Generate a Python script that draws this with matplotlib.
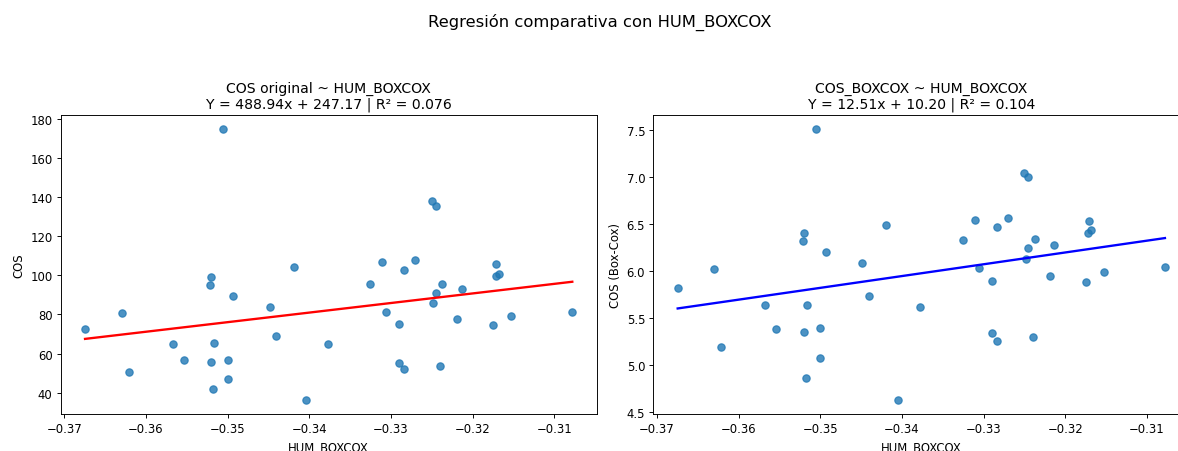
import numpy as np
import matplotlib
matplotlib.use("Agg")
import matplotlib.pyplot as plt

# ---------------- Data ----------------
hum_boxcox = [
    -0.36746, -0.36297, -0.36211, -0.35672, -0.35537, -0.35202, -0.35211, -0.35199,
    -0.35178, -0.35162, -0.35055, -0.34998, -0.34998, -0.34929, -0.34483, -0.34402,
    -0.34189, -0.34042, -0.33772, -0.33254, -0.33107, -0.33054, -0.32895, -0.32895,
    -0.32841, -0.32841, -0.32706, -0.32502, -0.32453, -0.32482, -0.32453, -0.32400,
    -0.32368, -0.32191, -0.32135, -0.31746, -0.31713, -0.31718, -0.31681, -0.31526,
    -0.30778,
]
cos_original = [
    72.7, 80.9, 50.6, 65.0, 56.7, 98.9, 94.8, 55.8,
    41.9, 65.5, 174.9, 56.7, 47.0, 89.2, 83.6, 69.0,
    104.2, 36.1, 64.7, 95.3, 106.9, 81.2, 75.3, 55.0,
    102.9, 52.3, 107.6, 138.0, 135.4, 85.6, 90.9, 53.6,
    95.7, 77.8, 92.8, 74.7, 105.9, 99.6, 100.7, 79.2,
    81.2,
]
cos_boxcox = [
    5.824, 6.022, 5.195, 5.644, 5.386, 6.400, 6.322, 5.357,
    4.866, 5.644, 7.511, 5.396, 5.074, 6.206, 6.089, 5.732,
    6.492, 4.628, 5.622, 6.326, 6.545, 6.036, 5.898, 5.339,
    6.471, 5.258, 6.563, 7.036, 6.998, 6.124, 6.245, 5.297,
    6.336, 5.951, 6.280, 5.888, 6.527, 6.404, 6.436, 5.990,
    6.047,
]

# fitted coefficients (slope, intercept, r2)
fit_original = (488.94, 247.17, 0.076)
fit_boxcox = (12.51, 10.20, 0.104)

# ---------------- Style ----------------
k = 0.84  # everything drawn a bit smaller than the defaults
plt.rcParams.update({
    "font.size": 10 * k,
    "axes.linewidth": 0.8 * k,
    "xtick.major.size": 3.5 * k,
    "ytick.major.size": 3.5 * k,
    "xtick.major.width": 0.8 * k,
    "ytick.major.width": 0.8 * k,
    "xtick.major.pad": 3.5 * k,
    "ytick.major.pad": 3.5 * k,
    "axes.titlepad": 6 * k,
    "axes.labelpad": 4 * k,
})

# ---------------- Figure ----------------
fig = plt.figure(figsize=(11.78, 4.52), dpi=100)
ax1 = fig.add_axes([0.0515, 0.0819, 0.455, 0.6615])
ax2 = fig.add_axes([0.5546, 0.0819, 0.455, 0.6615])


def draw_panel(ax, x, y, fit, line_color, title, ylabel):
    x = np.asarray(x)
    slope, intercept, r2 = fit
    ax.scatter(x, y, color="C0", alpha=0.8, s=36 * k * k * 1.1, linewidths=1.0 * k)
    xs = np.array([x.min(), x.max()])
    ax.plot(xs, slope * xs + intercept, color=line_color, lw=2 * k)
    ax.set_title(f"{title}\nY = {slope:.2f}x + {intercept:.2f} | R² = {r2:.3f}", fontsize=12 * k)
    ax.set_xlabel("HUM_BOXCOX")
    ax.set_ylabel(ylabel)


draw_panel(ax1, hum_boxcox, cos_original, fit_original, "red",
           "COS original ~ HUM_BOXCOX", "COS")
draw_panel(ax2, hum_boxcox, cos_boxcox, fit_boxcox, "blue",
           "COS_BOXCOX ~ HUM_BOXCOX", "COS (Box-Cox)")

fig.suptitle("Regresión comparativa con HUM_BOXCOX", fontsize=14 * k,
             x=600 / 1178, y=0.951, va="center")

fig.savefig("out.png", dpi=100)
